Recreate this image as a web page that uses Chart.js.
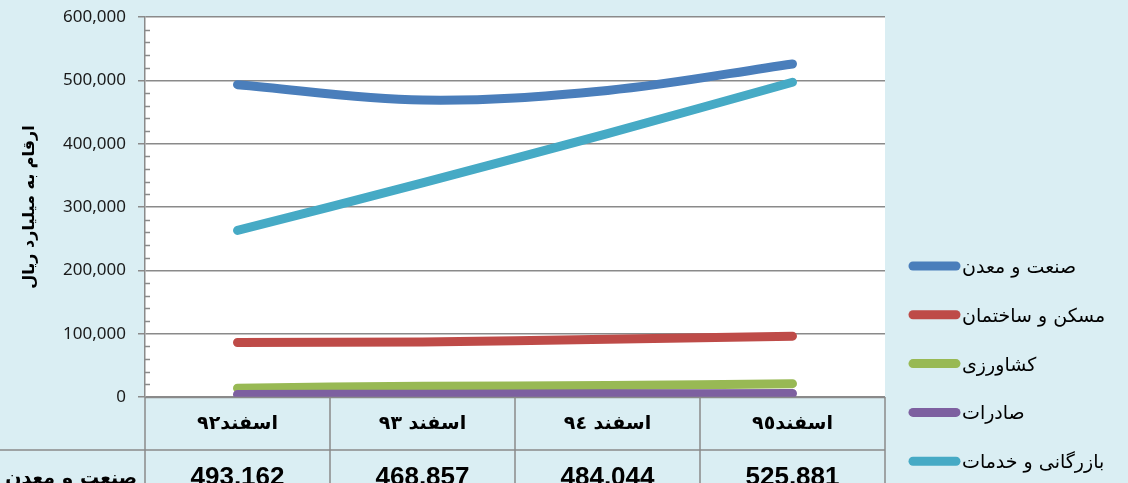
<!DOCTYPE html>
<html>
<head>
<meta charset="utf-8">
<script src="https://cdn.jsdelivr.net/npm/chart.js@4.4.1/dist/chart.umd.min.js"></script>
<style>
  html, body { margin: 0; padding: 0; background: #daeef3; overflow: hidden; }
  #wrap { width: 1128px; height: 483px; position: relative; }
</style>
</head>
<body>
<div id="wrap"><canvas id="chart"></canvas></div>
<script>
const categories = ["اسفند۹۲", "اسفند ۹۳", "اسفند ۹٤", "اسفند۹٥"];
const industry = [493162, 468857, 484044, 525881];
const housing = [86000, 87000, 91000, 96000];
const agriculture = [14000, 17000, 18000, 21000];
const exportsSeries = [4000, 4500, 5000, 5500];
const commerce = [263000, 338000, 416000, 497000];
const yTicks = [0, 100000, 200000, 300000, 400000, 500000, 600000];

const seriesNames = ["صنعت و معدن", "مسکن و ساختمان", "کشاورزی", "صادرات", "بازرگانی و خدمات"];
const seriesColors = ["#4a7ebb", "#be4b48", "#98b954", "#7d60a0", "#46aac5"];
const seriesData = [industry, housing, agriculture, exportsSeries, commerce];

const gridColor = "#8a8a8a";
const arabicFont = "'DejaVu Sans', 'Noto Sans', sans-serif";

const backgroundPlugin = {
    id: "plotBackground",
    beforeDraw(chart) {
        const { ctx, chartArea: a } = chart;
        ctx.save();
        ctx.fillStyle = "#ffffff";
        ctx.fillRect(a.left, a.top, a.right - a.left, a.bottom - a.top);
        ctx.restore();
    }
};

const tablePlugin = {
    id: "dataTable",
    afterDraw(chart) {
        const { ctx, chartArea: a } = chart;
        const x = chart.scales.x;
        const y = chart.scales.y;
        const h = chart.height;
        const rowY = a.bottom + 53;
        const half = (x.getPixelForValue(1) - x.getPixelForValue(0)) / 2;

        ctx.save();
        ctx.strokeStyle = gridColor;
        ctx.lineWidth = 1.5;

        // minor ticks on the value axis
        for (let v = 0; v <= 600000; v += 20000) {
            if (v % 100000 === 0) continue;
            const py = Math.round(y.getPixelForValue(v)) + 0.5;
            ctx.beginPath();
            ctx.moveTo(a.left, py);
            ctx.lineTo(a.left + 5, py);
            ctx.stroke();
        }

        // table grid
        ctx.beginPath();
        ctx.moveTo(a.left, a.bottom);
        ctx.lineTo(a.left, h);
        for (let i = 0; i < categories.length; i++) {
            const px = x.getPixelForValue(i) + half;
            ctx.moveTo(px, a.bottom);
            ctx.lineTo(px, h);
        }
        ctx.moveTo(0, rowY);
        ctx.lineTo(a.right, rowY);
        ctx.moveTo(a.left, a.bottom + 0.5);
        ctx.lineTo(a.right, a.bottom + 0.5);
        ctx.stroke();

        // category row
        ctx.fillStyle = "#000";
        ctx.textAlign = "center";
        ctx.textBaseline = "middle";
        ctx.direction = "rtl";
        ctx.font = "bold 19px " + arabicFont;
        categories.forEach((c, i) => {
            ctx.fillText(c, x.getPixelForValue(i), a.bottom + 27);
        });

        // value row for the first series
        ctx.direction = "ltr";
        ctx.textBaseline = "alphabetic";
        ctx.font = "bold 26px 'Liberation Sans', Arial, sans-serif";
        industry.forEach((v, i) => {
            ctx.fillText(v.toLocaleString("en-US"), x.getPixelForValue(i), h + 2);
        });
        ctx.direction = "rtl";
        ctx.textAlign = "right";
        ctx.font = "bold 19px " + arabicFont;
        ctx.fillText(seriesNames[0], a.left - 8, h + 1);
        ctx.restore();
    }
};

const legendPlugin = {
    id: "sideLegend",
    afterDraw(chart) {
        const { ctx } = chart;
        const startY = 266;
        const step = 48.8;
        ctx.save();
        ctx.lineCap = "round";
        ctx.lineWidth = 9;
        ctx.font = "19px " + arabicFont;
        ctx.textBaseline = "middle";
        ctx.textAlign = "left";
        seriesNames.forEach((name, i) => {
            const cy = startY + i * step;
            ctx.strokeStyle = seriesColors[i];
            ctx.beginPath();
            ctx.moveTo(913, cy);
            ctx.lineTo(956, cy);
            ctx.stroke();
            ctx.fillStyle = "#000";
            ctx.fillText(name, 962, cy + 2);
        });
        ctx.restore();
    }
};

new Chart(document.getElementById("chart"), {
    type: "line",
    data: {
        labels: categories,
        datasets: seriesData.map((d, i) => ({
            label: seriesNames[i],
            data: d,
            borderColor: seriesColors[i],
            backgroundColor: seriesColors[i],
            borderWidth: 9,
            borderCapStyle: "round",
            borderJoinStyle: "round",
            pointRadius: 0,
            tension: 0.35,
            order: seriesData.length - i
        }))
    },
    options: {
        responsive: true,
        maintainAspectRatio: false,
        animation: false,
        layout: { padding: { top: 17, right: 243, bottom: 86, left: 0 } },
        plugins: { legend: { display: false }, tooltip: { enabled: false } },
        scales: {
            x: {
                display: false,
                offset: true
            },
            y: {
                min: 0,
                max: 600000,
                afterBuildTicks: (scale) => {
                    scale.ticks = yTicks.map((v) => ({ value: v }));
                },
                afterFit: (scale) => {
                    scale.width = 145;
                    scale.paddingTop = 0;
                    scale.paddingBottom = 0;
                },
                ticks: {
                    padding: 12,
                    color: "#1a1a1a",
                    font: { family: "'Noto Sans', sans-serif", size: 17 },
                    callback: (v) => Number(v).toLocaleString("en-US")
                },
                grid: {
                    color: gridColor,
                    lineWidth: 1.5,
                    tickLength: 7
                },
                border: { color: gridColor, width: 1.5 },
                title: {
                    display: true,
                    text: "ارقام به میلیارد ریال",
                    color: "#000",
                    font: { family: arabicFont, size: 16, weight: "bold" },
                    padding: { top: 20, bottom: 0 }
                }
            }
        }
    },
    plugins: [backgroundPlugin, tablePlugin, legendPlugin]
});
</script>
</body>
</html>
